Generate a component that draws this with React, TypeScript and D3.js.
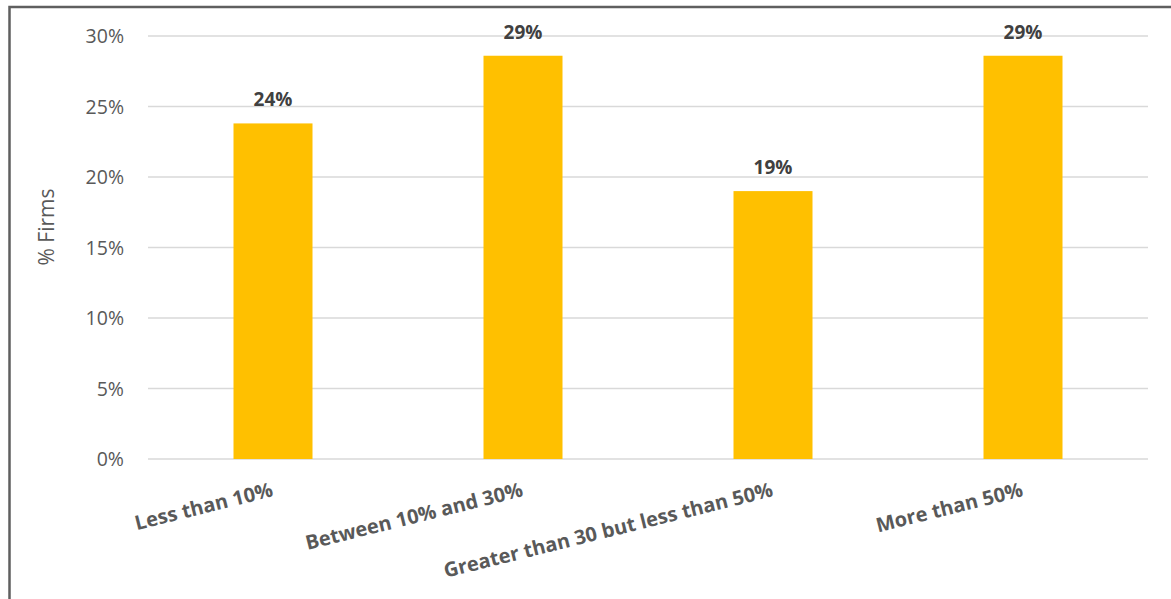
import React from "react";
import * as d3 from "d3";

const categories = [
  "Less than 10%",
  "Between 10% and 30%",
  "Greater than 30 but less than 50%",
  "More than 50%",
];
const values = [0.238, 0.286, 0.19, 0.286];
const valueLabels = ["24%", "29%", "19%", "29%"];
const yTicks = [0, 0.05, 0.1, 0.15, 0.2, 0.25, 0.3];
const yAxisTitle = "% Firms";

const W = 1171;
const H = 599;
const margin = { left: 148, right: 23, top: 36, bottom: 140 };
const FONT = "'Open Sans', sans-serif";

export default function App() {
  const x = d3
    .scaleBand<string>()
    .domain(categories)
    .range([margin.left, W - margin.right])
    .paddingInner(0.684)
    .paddingOuter(0.342);
  const y = d3
    .scaleLinear()
    .domain([0, 0.3])
    .range([H - margin.bottom, margin.top]);
  const fmt = d3.format(".0%");

  return (
    <svg
      width={W}
      height={H}
      style={{ position: "absolute", left: 0, top: 0, background: "#fff" }}
      fontFamily={FONT}
    >
      <rect x={0} y={0} width={W} height={H} fill="#fff" />
      {/* frame */}
      <path d={`M9.5,${H + 5} V7 H${W + 5}`} fill="none" stroke="#5f5f5f" strokeWidth={2.5} />
      {/* gridlines */}
      {yTicks.map((t) => (
        <line
          key={t}
          x1={margin.left}
          x2={W - margin.right}
          y1={y(t)}
          y2={y(t)}
          stroke="#d9d9d9"
          strokeWidth={1.5}
        />
      ))}
      {/* tick labels */}
      {yTicks.map((t) => (
        <text
          key={"l" + t}
          x={124}
          y={y(t)}
          dy="0.36em"
          textAnchor="end"
          fontSize={19.5}
          fill="#595959"
        >
          {fmt(t)}
        </text>
      ))}
      <text
        transform={`translate(46,227) rotate(-90)`}
        textAnchor="middle"
        dy="0.36em"
        fontSize={21}
        fill="#595959"
      >
        {yAxisTitle}
      </text>
      {/* bars */}
      {categories.map((c, i) => (
        <rect
          key={c}
          x={x(c)}
          y={y(values[i])}
          width={x.bandwidth()}
          height={y(0) - y(values[i])}
          fill="#FFC000"
        />
      ))}
      {/* value labels */}
      {categories.map((c, i) => (
        <text
          key={"v" + c}
          x={(x(c) as number) + x.bandwidth() / 2}
          y={y(values[i]) - 17}
          textAnchor="middle"
          fontSize={19}
          fontWeight="bold"
          fill="#404040"
        >
          {valueLabels[i]}
        </text>
      ))}
      {/* category labels */}
      {categories.map((c) => (
        <text
          key={"c" + c}
          transform={`translate(${(x(c) as number) + x.bandwidth() / 2 + 1},${y(0) + 37}) rotate(-14)`}
          textAnchor="end"
          fontSize={20}
          fontWeight="bold"
          fill="#595959"
        >
          {c}
        </text>
      ))}
    </svg>
  );
}
